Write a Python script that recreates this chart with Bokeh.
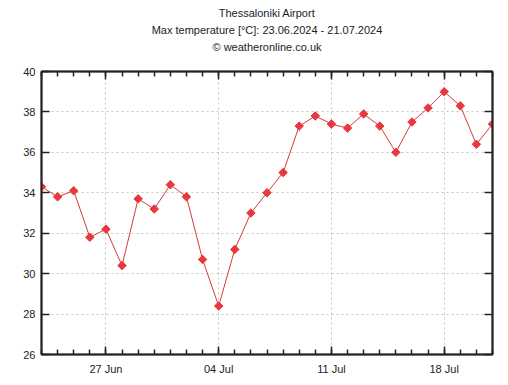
import pandas as pd
from bokeh.plotting import figure
from bokeh.models import (DatetimeAxis, FixedTicker, DatetimeTickFormatter, Range1d,
                          Title, LinearAxis, ColumnDataSource, Grid)
from bokeh.embed import file_html
from bokeh.resources import INLINE

dates = pd.date_range("2024-06-23", "2024-07-21", freq="D")
temps = [34.3, 33.8, 34.1, 31.8, 32.2, 30.4, 33.7, 33.2, 34.4, 33.8, 30.7, 28.4,
         31.2, 33.0, 34.0, 35.0, 37.3, 37.8, 37.4, 37.2, 37.9, 37.3, 36.0, 37.5,
         38.2, 39.0, 38.3, 36.4, 37.4]
major_dates = ["2024-06-27", "2024-07-04", "2024-07-11", "2024-07-18"]
y_ticks = [26, 28, 30, 32, 34, 36, 38, 40]
title_lines = ["Thessaloniki Airport",
               "Max temperature [°C]: 23.06.2024 - 21.07.2024",
               "© weatheronline.co.uk"]

def ms(d):
    return pd.Timestamp(d).value / 1e6

FONT = "Liberation Sans"
INK = "#222222"

p = figure(width=500, height=377, output_backend="svg", toolbar_location=None,
           x_axis_type=None, y_axis_type=None,
           x_range=Range1d(ms(dates[0]), ms(dates[-1])),
           y_range=Range1d(26, 40),
           min_border_left=41, min_border_right=8, min_border_top=71, min_border_bottom=21)
p.outline_line_color = INK
p.outline_line_width = 1.5
p.background_fill_color = "white"
p.border_fill_color = "white"

xt = FixedTicker(ticks=[ms(d) for d in major_dates], minor_ticks=[ms(d) for d in dates])
fmt = DatetimeTickFormatter(days="%d %b", months="%d %b", hours="%d %b", years="%d %b")
yt = FixedTicker(ticks=y_ticks, minor_ticks=[])

def style(ax):
    ax.axis_line_color = INK
    ax.axis_line_width = 2
    ax.major_tick_in = 8
    ax.major_tick_out = 0
    ax.minor_tick_in = 5
    ax.minor_tick_out = 0
    ax.major_tick_line_color = INK
    ax.minor_tick_line_color = INK
    ax.major_tick_line_width = 1.5
    ax.minor_tick_line_width = 1.5
    ax.major_label_text_font = FONT
    ax.major_label_text_font_size = "11px"
    ax.major_label_text_color = INK

xb = DatetimeAxis(ticker=xt, formatter=fmt)
style(xb)
xb.major_label_standoff = 8
p.add_layout(xb, "below")

xa = DatetimeAxis(ticker=xt, formatter=fmt)
style(xa)
xa.major_label_overrides = {ms(d): "" for d in major_dates}
xa.major_label_standoff = 0
p.add_layout(xa, "above")

yl = LinearAxis(ticker=yt)
style(yl)
yl.major_label_standoff = 6
p.add_layout(yl, "left")

yr = LinearAxis(ticker=yt)
style(yr)
yr.major_label_overrides = {v: "" for v in y_ticks}
yr.major_label_standoff = 0
p.add_layout(yr, "right")

gx = Grid(dimension=0, ticker=xt, grid_line_color="#c4c4c4", grid_line_dash="2 3", grid_line_width=1)
gy = Grid(dimension=1, ticker=yt, grid_line_color="#c4c4c4", grid_line_dash="2 3", grid_line_width=1)
p.add_layout(gx)
p.add_layout(gy)

src = ColumnDataSource(data=dict(x=[ms(d) for d in dates], y=temps))
p.line("x", "y", source=src, line_color="#d63a3a", line_width=1)
p.scatter("x", "y", source=src, marker="square", angle=0.785398, size=6,
          fill_color="#e8383d", line_color="#e8383d", line_width=1)

pads = [0, 0, 17]
for t, pb in reversed(list(zip(title_lines, pads))):
    p.add_layout(Title(text=t, align="center", text_font=FONT, text_font_size="11px",
                       text_font_style="normal", text_color=INK, standoff=3, offset=0,
                       padding=dict(top=0, bottom=pb, left=0, right=0)), "above")

open("out.html", "w").write(file_html(p, INLINE))
